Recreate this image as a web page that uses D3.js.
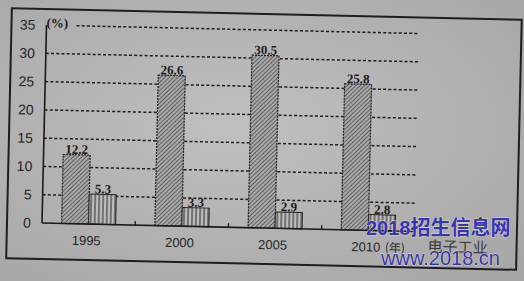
<!DOCTYPE html>
<html><head><meta charset="utf-8">
<script src="https://cdn.jsdelivr.net/npm/d3@7"></script>
<style>
html,body{margin:0;padding:0;background:#a8a8a8;}
svg{display:block;}
</style></head>
<body>
<svg id="c" width="524" height="281"></svg>
<script>
const years = ["1995","2000","2005","2010"];
const seriesA = [12.2, 26.6, 30.5, 25.8];
const seriesB = [5.3, 3.3, 2.9, 2.8];
const labelsA = ["12.2","26.6","30.5","25.8"];
const labelsB = ["5.3","3.3","2.9","2.8"];
const yTicks = [0,5,10,15,20,25,30,35];

const svg = d3.select("#c");
const defs = svg.append("defs");
const grad = defs.append("radialGradient").attr("id","bg").attr("cx","45%").attr("cy","45%").attr("r","75%");
grad.append("stop").attr("offset","0%").attr("stop-color","#c0c0c0");
grad.append("stop").attr("offset","100%").attr("stop-color","#a6a6a6");
svg.append("rect").attr("width",524).attr("height",281).attr("fill","url(#bg)");

const pA = defs.append("pattern").attr("id","hatchA").attr("patternUnits","userSpaceOnUse")
  .attr("width",3).attr("height",3).attr("patternTransform","rotate(45)");
pA.append("rect").attr("width",3).attr("height",3).attr("fill","#a8a8a8");
pA.append("line").attr("x1",0).attr("y1",0).attr("x2",0).attr("y2",3).attr("stroke","#3a3a3a").attr("stroke-width",1.3);
const pB = defs.append("pattern").attr("id","hatchB").attr("patternUnits","userSpaceOnUse")
  .attr("width",4).attr("height",4);
pB.append("rect").attr("width",4).attr("height",4).attr("fill","#bdbdbd");
pB.append("line").attr("x1",1).attr("y1",0).attr("x2",1).attr("y2",4).attr("stroke","#333").attr("stroke-width",1.1);

const x0 = 42, xEnd = 415, yZero = 223, yTop = 25;
const g = svg.append("g").attr("transform",`rotate(1.3, ${x0}, ${yZero})`);

// frame
g.append("rect").attr("x",7).attr("y",9).attr("width",510).attr("height",250)
  .attr("fill","none").attr("stroke","#1e1e1e").attr("stroke-width",2);

const y = d3.scaleLinear().domain([0,35]).range([yZero,yTop]);
const x = d3.scaleBand().domain(years).range([x0,xEnd]);
const sub = d3.scaleBand().domain(["A","B"]).range([0,54]);

// gridlines
g.append("g").selectAll("line").data(yTicks.filter(d=>d>0)).join("line")
  .attr("x1",d=> d===35 ? x0+30 : x0).attr("x2",xEnd)
  .attr("y1",d=>y(d)).attr("y2",d=>y(d))
  .attr("stroke","#1f1f1f").attr("stroke-width",1.5).attr("stroke-dasharray","3,2.2");

// y axis labels
const yAxis = d3.axisLeft(y).tickValues(yTicks).tickSize(0).tickPadding(11);
const ya = g.append("g").attr("transform",`translate(${x0},0)`).call(yAxis);
ya.select(".domain").remove();
ya.selectAll("text").attr("font-family","Liberation Sans, Arial, sans-serif").attr("font-size",14).attr("fill","#262626");

// bars
const grp = g.append("g").selectAll("g").data(years).join("g")
  .attr("transform",d=>`translate(${x(d)+x.bandwidth()/2-27},0)`);
grp.append("rect").attr("x",sub("A")).attr("width",sub.bandwidth())
  .attr("y",(d,i)=>y(seriesA[i])).attr("height",(d,i)=>yZero-y(seriesA[i]))
  .attr("fill","url(#hatchA)").attr("stroke","#222").attr("stroke-width",1.2).attr("stroke-dasharray","2,1");
grp.append("rect").attr("x",sub("B")).attr("width",sub.bandwidth())
  .attr("y",(d,i)=>y(seriesB[i])).attr("height",(d,i)=>yZero-y(seriesB[i]))
  .attr("fill","url(#hatchB)").attr("stroke","#222").attr("stroke-width",1);
grp.append("text").attr("x",sub("A")+sub.bandwidth()/2).attr("y",(d,i)=>y(seriesA[i])-1)
  .attr("text-anchor","middle").attr("font-family","Liberation Serif, Times New Roman, serif")
  .attr("font-weight","bold").attr("font-size",13).attr("fill","#1c1c1c").text((d,i)=>labelsA[i]);
grp.append("text").attr("x",sub("B")+sub.bandwidth()/2).attr("y",(d,i)=>y(seriesB[i])-1)
  .attr("text-anchor","middle").attr("font-family","Liberation Serif, Times New Roman, serif")
  .attr("font-weight","bold").attr("font-size",13).attr("fill","#1c1c1c").text((d,i)=>labelsB[i]);

// axes lines
g.append("line").attr("x1",x0).attr("x2",x0).attr("y1",yTop).attr("y2",yZero).attr("stroke","#1a1a1a").attr("stroke-width",1.6);
g.append("line").attr("x1",x0).attr("x2",xEnd).attr("y1",yZero).attr("y2",yZero).attr("stroke","#1a1a1a").attr("stroke-width",1.6);
// separator ticks
g.append("g").selectAll("line").data(years.slice(1)).join("line")
  .attr("x1",d=>x(d)).attr("x2",d=>x(d)).attr("y1",yZero).attr("y2",yZero-4)
  .attr("stroke","#1a1a1a").attr("stroke-width",1.3);

// x labels
g.append("g").selectAll("text").data(years).join("text")
  .attr("x",d=>x(d)+x.bandwidth()/2-2).attr("y",yZero+21)
  .attr("text-anchor","middle").attr("font-family","Liberation Sans, Arial, sans-serif")
  .attr("font-size",13).attr("fill","#262626").text(d=>d);
g.append("text").attr("x",x("2010")+x.bandwidth()/2+17).attr("y",yZero+21)
  .attr("font-family","Noto Sans CJK SC, sans-serif").attr("font-size",12).attr("fill","#262626").text("(年)");

// unit
g.append("text").attr("x",x0).attr("y",y(35)+2)
  .attr("font-family","Liberation Serif, Times New Roman, serif").attr("font-weight","bold")
  .attr("font-size",13).attr("fill","#1c1c1c").text("(%)");

// partly hidden caption
g.append("text").attr("x",428).attr("y",yZero+20)
  .attr("font-family","Noto Sans CJK SC, sans-serif").attr("font-size",15).attr("fill","#3a3a3a").text("电子工业");

// watermark
const wm = svg.append("g").attr("font-family","Liberation Sans, Arial, Noto Sans CJK SC, sans-serif")
  .attr("font-weight","bold").attr("fill","#3434c4").attr("stroke","#e6e08a").attr("stroke-width",0.8)
  .attr("paint-order","stroke");
wm.append("text").attr("x",366).attr("y",235).attr("font-size",20).text("2018招生信息网");
wm.append("text").attr("x",381).attr("y",265).attr("font-size",20).attr("font-weight","normal").text("www.2018.cn");
</script>
</body></html>
